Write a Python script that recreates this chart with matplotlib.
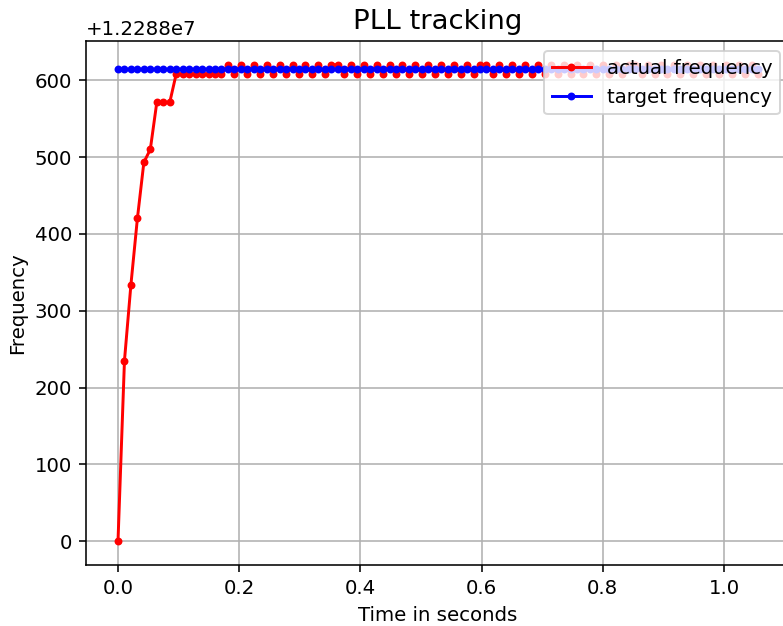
from matplotlib import pyplot as plt
import numpy as np

# sampling period of the frequency measurement (seconds) and sample count
sample_period = 0.010667
n_samples = 100

target_freq = 12288614
low, high = 12288608, 12288620

# actual frequency: initial lock-in, then dithering around the target
actual_start = [0, 235, 334, 420, 493, 510, 571, 571, 571,
                608, 608, 608, 608, 608, 608, 608, 608]
actual_start = [12288000 + v for v in actual_start]
actual_tail = ([high, low] * 8 + [high]          # 17..33
               + [high] + [low, high] * 11       # 34..56
               + [high] + [low, high] * 11       # 57..79
               + [high] + [low, high] * 9 + [low])  # 80..99
actual_freq = actual_start + actual_tail
target = [target_freq] * n_samples

time = np.arange(n_samples) * sample_period

dpi = 141.8
fig = plt.figure(figsize=(783 / dpi, 626 / dpi), dpi=dpi)
ax = fig.add_axes([86 / 783, 61 / 626, 704 / 783, 524 / 626])
ax.plot(time, actual_freq, 'r.-', label='actual frequency')
ax.plot(time, target, 'b.-', label='target frequency')
ax.set_xlabel('Time in seconds')
ax.set_ylabel('Frequency')
ax.set_title('PLL tracking', fontsize=14)
ax.grid(True)
ax.legend(loc='upper right')
fig.savefig('out.png', dpi=dpi)
